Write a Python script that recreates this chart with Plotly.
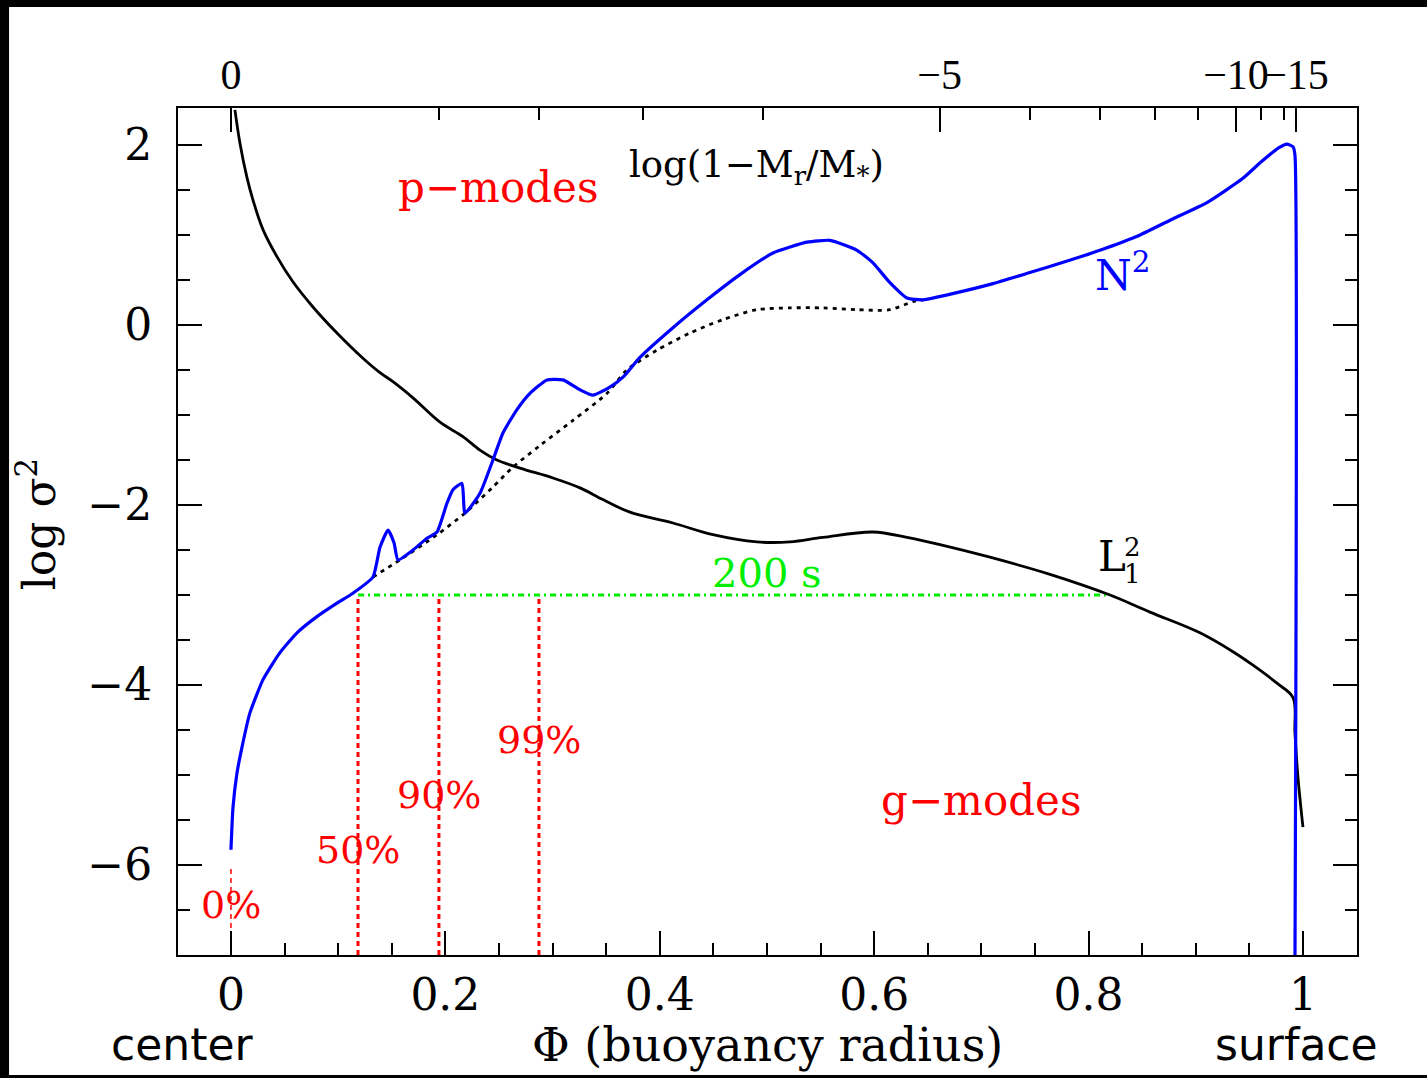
import plotly.graph_objects as go

# ---------------- data ----------------
# L1^2 (Lamb frequency) curve
l1_phi = [0.0037, 0.0084, 0.0149, 0.0205, 0.0299, 0.0429, 0.0578, 0.0765, 0.0989, 0.1231,
          0.139, 0.1511, 0.1698, 0.195, 0.2164, 0.2323, 0.2481, 0.2696, 0.3004, 0.3256,
          0.347, 0.3722, 0.4123, 0.4496, 0.4907, 0.5215, 0.5522, 0.5989, 0.6306, 0.6614,
          0.708, 0.764, 0.82, 0.8573, 0.9039, 0.9347, 0.9534, 0.9757, 0.9907, 0.9925,
          0.9953, 1.0]
l1_logs2 = [2.39, 2.02, 1.64, 1.39, 1.06, 0.76, 0.48, 0.20, -0.09, -0.37,
            -0.53, -0.63, -0.81, -1.08, -1.24, -1.39, -1.50, -1.59, -1.70, -1.81,
            -1.94, -2.08, -2.20, -2.33, -2.41, -2.41, -2.36, -2.30, -2.36, -2.44,
            -2.58, -2.77, -3.00, -3.19, -3.42, -3.63, -3.78, -3.98, -4.14, -4.53,
            -5.02, -5.58]

# N^2 (Brunt-Vaisala) curve
n2_phi = [0.0, 0.0019, 0.0056, 0.0103, 0.0177, 0.0299, 0.0457, 0.0616, 0.0802, 0.0989,
          0.1138, 0.1325, 0.139, 0.1465, 0.1521, 0.1558, 0.1698, 0.1828, 0.1922, 0.2015,
          0.2071, 0.2155, 0.2183, 0.2323, 0.2444, 0.2537, 0.2668, 0.2789, 0.2948, 0.3097,
          0.3256, 0.3377, 0.3535, 0.3657, 0.3815, 0.4123, 0.444, 0.4748, 0.5056, 0.5373,
          0.5588, 0.584, 0.5989, 0.6147, 0.6306, 0.6455, 0.6772, 0.7108, 0.7444, 0.7771,
          0.8106, 0.8442, 0.8769, 0.9104, 0.944, 0.9608, 0.9776, 0.985, 0.9907, 0.9925,
          0.9925]
n2_logs2 = [-5.83, -5.36, -4.98, -4.69, -4.31, -3.94, -3.64, -3.42, -3.24, -3.09,
            -2.98, -2.80, -2.47, -2.28, -2.42, -2.61, -2.50, -2.37, -2.30, -1.98,
            -1.83, -1.76, -2.09, -1.87, -1.50, -1.20, -0.94, -0.76, -0.61, -0.61,
            -0.72, -0.78, -0.69, -0.58, -0.36, -0.03, 0.28, 0.56, 0.80, 0.92,
            0.94, 0.83, 0.69, 0.47, 0.30, 0.28, 0.36, 0.46, 0.58, 0.70,
            0.83, 0.98, 1.17, 1.36, 1.63, 1.81, 1.97, 2.01, 1.98, 1.89,
            -7.2]

# smooth N^2 (dotted, without composition bumps)
smooth_phi = [0.1325, 0.1576, 0.1922, 0.2183, 0.2444, 0.263, 0.2882, 0.319, 0.3507, 0.3694,
              0.3974, 0.4282, 0.459, 0.4907, 0.5215, 0.5522, 0.584, 0.6147, 0.6362, 0.6455]
smooth_logs2 = [-2.80, -2.61, -2.33, -2.09, -1.80, -1.58, -1.34, -1.06, -0.76, -0.50,
                -0.28, -0.09, 0.06, 0.17, 0.19, 0.19, 0.17, 0.17, 0.26, 0.28]

# 200 s period line
period_phi = [0.1185, 0.82]
period_logs2 = [-3.0, -3.0]
period_label = "200 s"

# mass fraction markers
mass_labels = ["0%", "50%", "90%", "99%"]
mass_phi = [0.0, 0.1185, 0.194, 0.2873]
mass_top = [-6.0, -3.0, -3.0, -3.0]
mass_label_y = [-6.44, -5.83, -5.22, -4.61]

# axes ticks
x_ticks = [0, 0.2, 0.4, 0.6, 0.8, 1.0]
x_ticktext = ["0", "0.2", "0.4", "0.6", "0.8", "1"]
y_ticks = [-6, -4, -2, 0, 2]
y_ticktext = ["\u22126", "\u22124", "\u22122", "0", "2"]
top_major_phi = [0.0, 0.661, 0.9375, 0.9935]
top_major_text = ["0", "\u22125", "\u221210", "\u221215"]
top_minor_phi = [0.194, 0.287, 0.384, 0.496, 0.745, 0.811, 0.862, 0.902, 0.961, 0.982]

XR = [-0.0494, 1.0504]
YR = [-7.0, 2.411]

RED = "#ff0000"
BLUE = "#0000ff"
GREEN = "#00ee00"
SERIF = "DejaVu Serif"

fig = go.Figure()

# red vertical mass markers
for i, (p, t) in enumerate(zip(mass_phi, mass_top)):
    fig.add_trace(go.Scatter(x=[p, p], y=[YR[0], t], mode="lines",
                             line=dict(color=RED, width=1.5 if i == 0 else 3, dash="5px,4px"),
                             showlegend=False, hoverinfo="skip"))

# green period line
fig.add_trace(go.Scatter(x=period_phi, y=period_logs2, mode="lines",
                         line=dict(color=GREEN, width=3, dash="6px,4px,2px,4px"),
                         showlegend=False, hoverinfo="skip"))

# smooth dotted
fig.add_trace(go.Scatter(x=smooth_phi, y=smooth_logs2, mode="lines",
                         line=dict(color="black", width=2.8, dash="4px,5px", shape="spline",
                                   smoothing=0.8),
                         showlegend=False, hoverinfo="skip"))

# L1^2
fig.add_trace(go.Scatter(x=l1_phi, y=l1_logs2, mode="lines",
                         line=dict(color="black", width=2.8, shape="spline", smoothing=1.0),
                         showlegend=False, hoverinfo="skip"))

# N^2
fig.add_trace(go.Scatter(x=n2_phi, y=n2_logs2, mode="lines",
                         line=dict(color=BLUE, width=3.2, shape="spline", smoothing=0.5),
                         showlegend=False, hoverinfo="skip"))

# dummy traces for top axes
fig.add_trace(go.Scatter(x=top_major_phi, y=[None] * len(top_major_phi), xaxis="x2",
                         showlegend=False, hoverinfo="skip", mode="lines"))
fig.add_trace(go.Scatter(x=top_minor_phi, y=[None] * len(top_minor_phi), xaxis="x3",
                         showlegend=False, hoverinfo="skip", mode="lines"))


def A(x, y, text, size, color="black", family=SERIF, ref="data", **kw):
    d = dict(x=x, y=y, text=text, showarrow=False, xanchor="center", yanchor="middle",
             font=dict(family=family, size=size, color=color))
    if ref == "paper":
        d.update(xref="paper", yref="paper")
    d.update(kw)
    return d


ann = []
for lab, p, yy in zip(mass_labels, mass_phi, mass_label_y):
    ann.append(A(p, yy, lab, 38, RED))
ann += [
    A(0.249, 1.53, "p\u2212modes", 42, RED),
    A(0.70, -5.28, "g\u2212modes", 42, RED),
    A(0.50, -2.76, period_label, 40, GREEN),
    A(0.4907, 1.76, "log(1\u2212M<sub>r</sub>/M<sub>*</sub>)", 37),
    A(0.832, 0.578, "N<sup>2</sup>", 42, BLUE),
    A(0.822, -2.567, "L", 42),
    A(0.8414, -2.47, "2", 26),
    A(0.8414, -2.77, "1", 26),
    A(0.4996, -0.106, "\u03a6 (buoyancy radius)", 46, ref="paper"),
    A(0.0034, -0.106, "center", 44, family="DejaVu Sans", ref="paper"),
    A(0.9491, -0.106, "surface", 44, family="DejaVu Sans", ref="paper"),
    A(-0.12, 0.508, "log \u03c3<sup>2</sup>", 44, ref="paper", textangle=-90),
]

shapes = [
    dict(type="rect", xref="paper", yref="paper", x0=-0.152, x1=-0.1433, y0=-0.146, y1=1.128,
         fillcolor="black", line=dict(width=0), layer="above"),
    dict(type="rect", xref="paper", yref="paper", x0=-0.152, x1=1.06, y0=1.1192, y1=1.128,
         fillcolor="black", line=dict(width=0), layer="above"),
    dict(type="rect", xref="paper", yref="paper", x0=-0.152, x1=1.06, y0=-0.146, y1=-0.1417,
         fillcolor="black", line=dict(width=0), layer="above"),
]

axis_font = dict(family=SERIF, size=44, color="black")
top_font = dict(family="Liberation Serif", size=42, color="black")

fig.update_layout(
    width=1427, height=1078,
    margin=dict(l=178, r=70, t=108, b=123, pad=0, autoexpand=False),
    paper_bgcolor="white", plot_bgcolor="white",
    showlegend=False,
    annotations=ann,
    shapes=shapes,
    xaxis=dict(range=XR, tickvals=x_ticks, ticktext=x_ticktext, ticks="inside",
               ticklen=24, tickwidth=2, tickcolor="black", showline=True, linewidth=2,
               linecolor="black", mirror=False, showgrid=False, zeroline=False,
               tickfont=axis_font, ticklabelstandoff=0, tickangle=0, automargin=False,
               minor=dict(dtick=0.05, tick0=0, ticks="inside", ticklen=12, tickwidth=2,
                          tickcolor="black", showgrid=False)),
    xaxis2=dict(range=XR, overlaying="x", side="top", anchor="y", tickvals=top_major_phi,
                ticktext=top_major_text, ticks="inside", ticklen=24, tickwidth=2,
                tickcolor="black", showline=True, linewidth=2, linecolor="black",
                showgrid=False, zeroline=False, tickfont=top_font, ticklabelstandoff=0,
                tickangle=0, automargin=False),
    xaxis3=dict(range=XR, overlaying="x", side="top", anchor="y", tickvals=top_minor_phi,
                ticks="inside", ticklen=12, tickwidth=2, tickcolor="black",
                showticklabels=False, showline=False, showgrid=False, zeroline=False,
                automargin=False),
    yaxis=dict(range=YR, tickvals=y_ticks, ticktext=y_ticktext, ticks="inside",
               ticklen=24, tickwidth=2, tickcolor="black", showline=True, linewidth=2,
               linecolor="black", mirror="ticks", showgrid=False, zeroline=False,
               tickfont=axis_font, ticklabelstandoff=15, automargin=False,
               minor=dict(dtick=0.5, tick0=0, ticks="inside", ticklen=12, tickwidth=2,
                          tickcolor="black", showgrid=False)),
)

fig.write_html("out.html")
